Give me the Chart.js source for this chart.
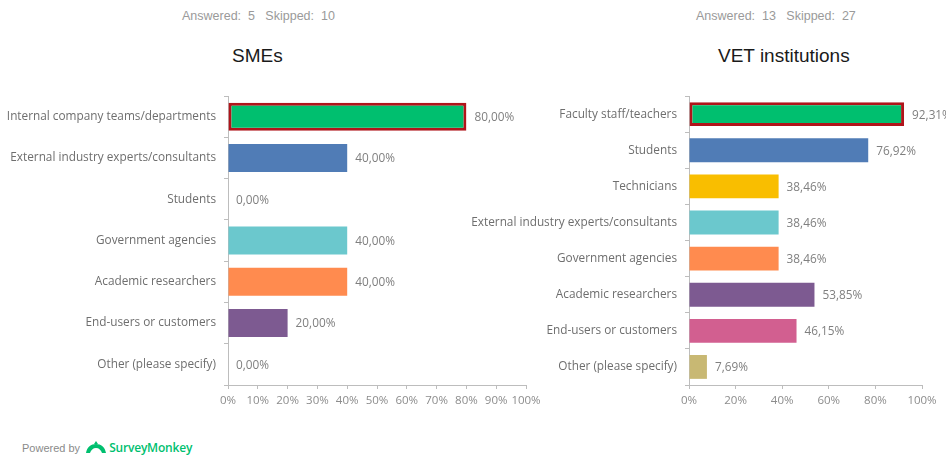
<!DOCTYPE html>
<html>
<head>
<meta charset="utf-8">
<script src="https://cdn.jsdelivr.net/npm/chart.js@4/dist/chart.umd.min.js"></script>
<style>
  html, body { margin: 0; padding: 0; background: #fff; }
  body { width: 946px; height: 457px; position: relative; overflow: hidden; font-family: "Liberation Sans", Arial, sans-serif; }
  .meta { position: absolute; top: 9px; font-size: 12.5px; color: #9a9a9a; white-space: pre; }
  .title { position: absolute; top: 45px; font-size: 19px; color: #1a1a1a; }
  .panel { position: absolute; top: 81px; height: 340px; }
  .powered { position: absolute; left: 22px; top: 439px; font-size: 11px; color: #8a8a8a; display: flex; align-items: center; }
  .powered .brand { color: #00bf6f; font-weight: 600; font-size: 12px; font-family: "Open Sans", sans-serif; letter-spacing: -0.2px; }
</style>
</head>
<body>
  <div class="meta" style="left:182px;">Answered:  5   Skipped:  10</div>
  <div class="title" style="left:232px;">SMEs</div>
  <div class="meta" style="left:696px;">Answered:  13   Skipped:  27</div>
  <div class="title" style="left:718px;">VET institutions</div>

  <div class="panel" style="left:0;width:560px;"><canvas id="smeCanvas" width="560" height="340"></canvas></div>
  <div class="panel" style="left:460px;width:486px;"><canvas id="vetCanvas" width="486" height="340"></canvas></div>

  <div class="powered">
    Powered by&nbsp;
    <svg width="22" height="14" viewBox="0 0 22 14" style="margin:0 2px 0 2px;">
      <path d="M1 12 C2 6 6 3 11 3 C16 3 20 6 21 12 L17 12 C16 9 14 7 11 7 C8 7 6 9 5 12 Z" fill="#00bf6f"/>
      <path d="M9 3 L11 0 L13 3 Z" fill="#00bf6f"/>
    </svg>
    <span class="brand">SurveyMonkey</span>
  </div>

<script>
const smeLabels = [
  "Internal company teams/departments",
  "External industry experts/consultants",
  "Students",
  "Government agencies",
  "Academic researchers",
  "End-users or customers",
  "Other (please specify)",
];
const smeValues = [80.00, 40.00, 0.00, 40.00, 40.00, 20.00, 0.00];

const vetLabels = [
  "Faculty staff/teachers",
  "Students",
  "Technicians",
  "External industry experts/consultants",
  "Government agencies",
  "Academic researchers",
  "End-users or customers",
  "Other (please specify)",
];
const vetValues = [92.31, 76.92, 38.46, 38.46, 38.46, 53.85, 46.15, 7.69];

const palette = ["#00bf6f", "#507cb6", "#f9be00", "#6bc8cd", "#ff8b4f", "#7d5a91", "#d25f90", "#c8b873"];

const LABEL_FONT = "'Open Sans', sans-serif";

// writes "80,00%" style value after each bar end
const valueLabels = {
  id: "valueLabels",
  afterDatasetsDraw(chart) {
    const ctx = chart.ctx;
    const meta = chart.getDatasetMeta(0);
    const data = chart.data.datasets[0].data;
    ctx.save();
    ctx.font = "11.8px " + LABEL_FONT;
    ctx.fillStyle = "#7f7f7f";
    ctx.textBaseline = "middle";
    ctx.textAlign = "left";
    meta.data.forEach((bar, i) => {
      const txt = data[i].toFixed(2).replace(".", ",") + "%";
      ctx.fillText(txt, bar.x + 8, bar.y + 1);
    });
    ctx.restore();
  }
};

function makeChart(id, labels, values, opts) {
  const borders = values.map((v, i) => i === 0 ? 3 : 0);
  return new Chart(document.getElementById(id), {
    type: "bar",
    data: {
      labels,
      datasets: [{
        data: values,
        backgroundColor: palette.slice(0, values.length),
        borderColor: "#b0141a",
        borderWidth: borders,
        borderSkipped: false,
        categoryPercentage: 1,
        barPercentage: opts.barPct,
      }],
    },
    options: {
      indexAxis: "y",
      responsive: false,
      animation: false,
      layout: { padding: { top: 14, right: opts.rightPad, left: 0, bottom: 0 } },
      plugins: { legend: { display: false }, tooltip: { enabled: false } },
      scales: {
        x: {
          min: 0, max: 100,
          ticks: {
            stepSize: opts.step, color: "#8c8c8c", padding: 5, maxRotation: 0, minRotation: 0, autoSkip: false,
            font: { family: LABEL_FONT, size: 11.5 }, callback: v => v + "%",
          },
          grid: { drawOnChartArea: false, tickLength: 4, color: "#bdbdbd" },
          border: { color: "#bdbdbd" },
          afterFit: s => { s.height = 36; },
        },
        y: {
          ticks: { color: "#6e6e6e", padding: 8, font: { family: LABEL_FONT, size: 11.8 } },
          grid: { drawOnChartArea: false, tickLength: 4, color: "#bdbdbd", offset: true },
          border: { color: "#bdbdbd" },
          afterFit: s => { s.width = opts.axisLeft; },
        },
      },
    },
    plugins: [valueLabels],
  });
}

makeChart("smeCanvas", smeLabels, smeValues, { barPct: 0.68, step: 10, axisLeft: 228, rightPad: 34 });
makeChart("vetCanvas", vetLabels, vetValues, { barPct: 0.66, step: 20, axisLeft: 229, rightPad: 24 });
</script>
</body>
</html>
